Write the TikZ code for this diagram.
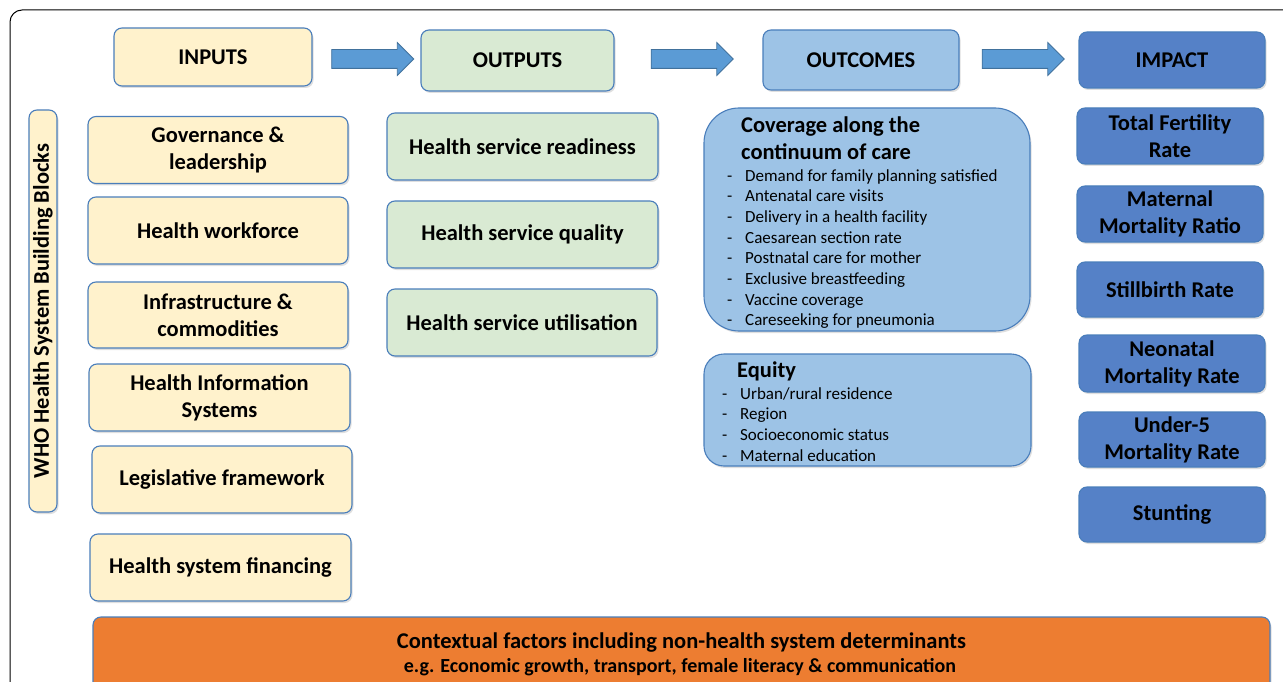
\documentclass[tikz,border=0pt]{standalone}
\usepackage{fontspec}
\setmainfont{Carlito}
\usetikzlibrary{shapes.arrows,shadows}
\definecolor{inputfill}{HTML}{FFF2CC}
\definecolor{outputfill}{HTML}{D9EAD3}
\definecolor{outcomefill}{HTML}{9DC3E6}
\definecolor{impactfill}{HTML}{5581C7}
\definecolor{contextfill}{HTML}{ED7D31}
\definecolor{boxline}{HTML}{4A7EBB}
\definecolor{arrowfill}{HTML}{5B9BD5}
\definecolor{arrowline}{HTML}{41719C}
\newcommand{\itm}[1]{\makebox[18pt][l]{-}#1}
\tikzset{
  blockbox/.style={draw=boxline, line width=1.1pt, rounded corners=8pt, align=center,
    inner sep=2pt, font=\fontsize{22.5}{27}\selectfont\bfseries,
    drop shadow={shadow xshift=1.5pt, shadow yshift=-2pt, opacity=0.25}},
  inbox/.style={blockbox, fill=inputfill},
  outbox/.style={blockbox, fill=outputfill},
  comebox/.style={blockbox, fill=outcomefill},
  impbox/.style={blockbox, fill=impactfill},
  flowarrow/.style={single arrow, draw=arrowline, fill=arrowfill, line width=0.8pt,
    inner sep=0pt, text height=9pt, text depth=9pt, minimum height=82pt,
    single arrow head extend=7pt},
  listtext/.style={anchor=north west, align=left, inner sep=0pt,
    font=\fontsize{17}{20.7}\selectfont},
  listtitle/.style={anchor=north west, align=left, inner sep=0pt,
    font=\fontsize{22.5}{27}\selectfont\bfseries}
}
\begin{document}
\begin{tikzpicture}[x=1pt, y=-1pt]
\useasboundingbox (0,0) rectangle (1283,682);
\clip (0,0) rectangle (1283,682);
\fill[white] (0,0) rectangle (1283,682);
\draw[line width=1pt, rounded corners=12pt] (10,10) rectangle (1320,720); % frame

% header row
\node[inbox, minimum width=198, minimum height=58] (inputs) at (213,57) {INPUTS};
\node[flowarrow] (arrowA) at (368,59) {};
\node[outbox, minimum width=193, minimum height=61] (outputs) at (517.5,60.5) {OUTPUTS};
\node[flowarrow] (arrowB) at (687.5,59) {};
\node[comebox, minimum width=196, minimum height=60] (outcomes) at (861,60) {OUTCOMES};
\node[flowarrow] (arrowC) at (1018.5,59) {};
\node[impbox, minimum width=186, minimum height=56] (impact) at (1172,60) {IMPACT};

% building blocks
\node[inbox, rotate=90, minimum width=402, minimum height=28, inner sep=0pt,
  font=\fontsize{22.5}{24}\selectfont\bfseries] (who) at (43,311) {WHO Health System Building Blocks};
\node[inbox, minimum width=260, minimum height=67] (gov) at (218,150) {Governance \&\\leadership};
\node[inbox, minimum width=260, minimum height=67] (workforce) at (218,230.5) {Health workforce};
\node[inbox, minimum width=260, minimum height=66] (infra) at (218,315) {Infrastructure \&\\commodities};
\node[inbox, minimum width=261, minimum height=67] (his) at (219.5,397.5) {Health Information\\Systems};
\node[inbox, minimum width=260, minimum height=67] (legis) at (222,479.5) {Legislative framework};
\node[inbox, minimum width=261, minimum height=67] (finance) at (220.5,567.5) {Health system financing};

% outputs
\node[outbox, minimum width=271, minimum height=67] (ready) at (522.5,146.5) {Health service readiness};
\node[outbox, minimum width=271, minimum height=67] (quality) at (522.5,234.5) {Health service quality};
\node[outbox, minimum width=270, minimum height=67] (utilise) at (522,322.5) {Health service utilisation};

% outcomes
\node[comebox, rounded corners=35pt, minimum width=326, minimum height=223] (coverage) at (867,219.5) {};
\node[listtitle] (covtitle) at (741,116.5) {Coverage along the\\continuum of care};
\node[listtext] (covlist) at (727,169) {\itm{Demand for family planning satisfied}\\
  \itm{Antenatal care visits}\\ \itm{Delivery in a health facility}\\
  \itm{Caesarean section rate}\\ \itm{Postnatal care for mother}\\
  \itm{Exclusive breastfeeding}\\ \itm{Vaccine coverage}\\
  \itm{Careseeking for pneumonia}};
\node[comebox, rounded corners=20pt, minimum width=327, minimum height=112] (equity) at (867.5,410) {};
\node[listtitle] (eqtitle) at (737,362) {Equity};
\node[listtext] (eqlist) at (722,387) {\itm{Urban/rural residence}\\ \itm{Region}\\
  \itm{Socioeconomic status}\\ \itm{Maternal education}};

% impact
\node[impbox, minimum width=186, minimum height=56] (fertility) at (1170,136) {Total Fertility\\Rate};
\node[impbox, minimum width=186, minimum height=56] (maternal) at (1170,214) {Maternal\\Mortality Ratio};
\node[impbox, minimum width=186, minimum height=55] (stillbirth) at (1170,289.5) {Stillbirth Rate};
\node[impbox, minimum width=186, minimum height=57] (neonatal) at (1172,363.5) {Neonatal\\Mortality Rate};
\node[impbox, minimum width=186, minimum height=55] (underfive) at (1172,439.5) {Under-5\\Mortality Rate};
\node[impbox, minimum width=186, minimum height=55] (stunting) at (1172,514.5) {Stunting};

% context
\node[blockbox, fill=contextfill, minimum width=1177, minimum height=100] (context) at (681.5,667) {};
\node[inner sep=0pt, font=\fontsize{22.5}{24}\selectfont\bfseries] (ctxmain) at (681.5,642.5) {Contextual factors including non-health system determinants};
\node[inner sep=0pt, font=\fontsize{20}{22}\selectfont\bfseries] (ctxsub) at (680,667) {e.g. Economic growth, transport, female literacy \& communication};
\end{tikzpicture}
\end{document}
